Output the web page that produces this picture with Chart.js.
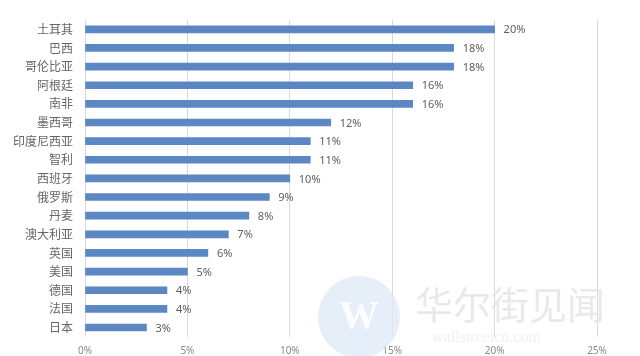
<!DOCTYPE html>
<html><head><meta charset="utf-8">
<script src="https://cdn.jsdelivr.net/npm/chart.js@4/dist/chart.umd.min.js"></script>
<style>html,body{margin:0;padding:0;background:#fff;}#wrap{width:640px;height:356px;position:relative;}</style>
</head><body><div id="wrap"><canvas id="c" width="640" height="356"></canvas></div>
<script>
const categories = ["土耳其","巴西","哥伦比亚","阿根廷","南非","墨西哥","印度尼西亚","智利","西班牙","俄罗斯","丹麦","澳大利亚","英国","美国","德国","法国","日本"];
const values = [20,18,18,16,16,12,11,11,10,9,8,7,6,5,4,4,3];
const xTicks = [0,5,10,15,20,25];

const valueLabels = {
  id:'valueLabels',
  afterDatasetsDraw(chart){
    const ctx = chart.ctx; const meta = chart.getDatasetMeta(0);
    ctx.save(); ctx.font = '11px "Noto Sans", sans-serif'; ctx.fillStyle = '#606060';
    ctx.textBaseline = 'middle'; ctx.textAlign = 'left';
    meta.data.forEach((bar,i)=>{ ctx.fillText(values[i] + '%', bar.x + 9, bar.y + 1); });
    ctx.restore();
  }
};
const watermark = {
  id:'watermark',
  beforeDatasetsDraw(chart){
    const ctx = chart.ctx; ctx.save();
    ctx.fillStyle = 'rgba(222,234,247,0.75)';
    ctx.beginPath(); ctx.arc(359, 317, 41, 0, Math.PI*2); ctx.fill();
    ctx.fillStyle = 'rgba(255,255,255,0.9)'; ctx.font = 'bold 40px "Liberation Serif", serif';
    ctx.textAlign = 'center'; ctx.textBaseline = 'middle'; ctx.fillText('W', 359, 318);
    ctx.fillStyle = 'rgba(228,228,228,0.8)'; ctx.font = '38px "Noto Sans CJK SC", serif';
    ctx.textAlign = 'left'; ctx.fillText('华尔街见闻', 415, 305);
    ctx.fillStyle = 'rgba(238,238,238,0.8)'; ctx.font = '16px "Liberation Serif", serif';
    ctx.fillText('wallstreetcn.com', 432, 338);
    ctx.restore();
  }
};

new Chart(document.getElementById('c'), {
  type:'bar',
  data:{ labels: categories, datasets:[{ data: values, backgroundColor:'#5b87c2', barThickness:7 }]},
  options:{
    indexAxis:'y', responsive:false, animation:false,
    layout:{ padding:{ top:20, right:43, left:0, bottom:0 } },
    plugins:{ legend:{display:false}, tooltip:{enabled:false} },
    scales:{
      x:{ min:0, max:25,
          afterBuildTicks(s){ s.ticks = xTicks.map(v=>({value:v})); },
          afterFit(s){ s.height = 17.6; },
          grid:{ color:'#d9d9d9', drawTicks:false }, border:{ display:false },
          ticks:{ padding:8, color:'#8a8a8a', font:{ family:'"Noto Sans", sans-serif', size:10 }, callback:v=>v+'%' } },
      y:{ afterFit(s){ s.width = 85; },
          grid:{ display:false, drawTicks:false }, border:{ display:false },
          ticks:{ padding:12, color:'#666666', font:{ family:'"Noto Sans CJK SC", sans-serif', size:12 } } }
    }
  },
  plugins:[watermark, valueLabels]
});
</script></body></html>
